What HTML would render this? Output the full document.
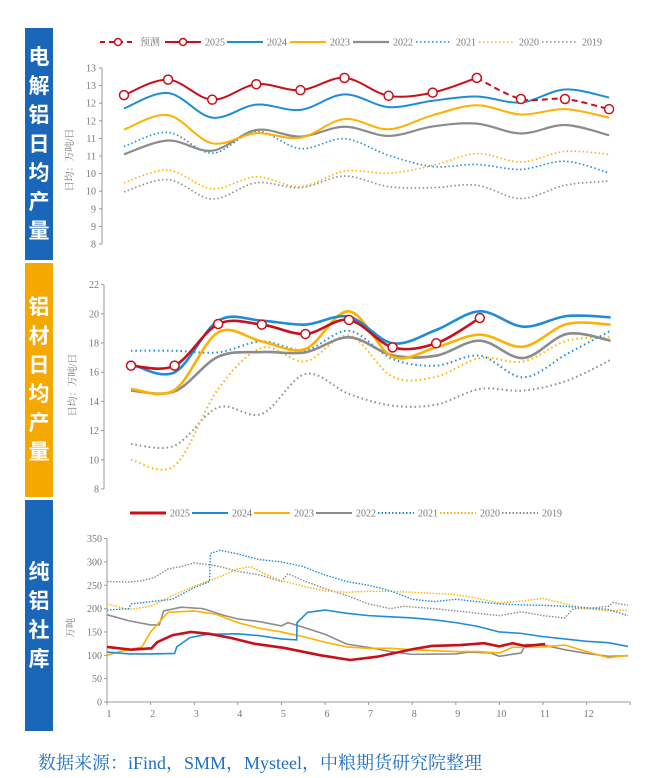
<!DOCTYPE html>
<html><head><meta charset="utf-8">
<style>
body{margin:0;background:#fff;width:670px;height:778px;overflow:hidden;font-family:"Liberation Serif","Noto Serif CJK SC",serif;}
.side{position:absolute;left:25px;width:28px;color:#fff;font-family:"Liberation Sans","Noto Sans CJK SC",sans-serif;font-weight:bold;font-size:21px;line-height:29px;text-align:center;display:flex;align-items:center;justify-content:center;}
#foot{position:absolute;left:38px;top:749px;font-size:18px;color:#1f6fc0;font-family:"Liberation Serif","Noto Serif CJK SC",serif;}
svg{position:absolute;left:0;top:0}
svg text{font-family:"Liberation Serif","Noto Serif CJK SC",serif;fill:#777;font-size:10px}
</style></head><body>
<div class="side" style="top:28px;height:232px;background:#1a66b8">电<br>解<br>铝<br>日<br>均<br>产<br>量</div>
<div class="side" style="top:263px;height:234px;background:#f5a800">铝<br>材<br>日<br>均<br>产<br>量</div>
<div class="side" style="top:500px;height:231px;background:#1a66b8">纯<br>铝<br>社<br>库</div>
<div id="foot">数据来源：iFind，SMM，Mysteel，中粮期货研究院整理</div>
<svg id="chart" width="670" height="778"></svg>
<script>
const seriesNames=['2025','2024','2023','2022','2021','2020','2019'];
const topTickLabels=['13','13','12','12','11','11','10','10','9','9','8'];
const topTickValues=[13,12.5,12,11.5,11,10.5,10,9.5,9,8.5,8];
const top2025=[12.23,12.67,12.10,12.54,12.37,12.72,12.21,12.30,12.72];
const topForecast=[null,null,null,null,null,null,null,null,12.72,12.12,12.12,11.83];
const top2024=[11.85,12.29,11.59,11.96,11.81,12.25,11.89,12.07,12.19,12.02,12.39,12.16];
const top2023=[11.25,11.66,10.86,11.15,11.02,11.55,11.26,11.66,11.94,11.68,11.83,11.59];
const top2022=[10.55,10.94,10.65,11.24,11.05,11.33,11.07,11.34,11.42,11.14,11.38,11.09];
const top2021=[10.77,11.17,10.58,11.20,10.71,10.99,10.52,10.20,10.26,10.12,10.35,10.02];
const top2020=[9.74,10.10,9.57,9.91,9.63,10.07,10.01,10.23,10.57,10.33,10.63,10.55];
const top2019=[9.48,9.83,9.28,9.74,9.60,9.93,9.63,9.60,9.67,9.29,9.67,9.79];
const midTicks=[22,20,18,16,14,12,10,8];
const mid2025=[16.45,16.45,19.30,19.26,18.62,19.58,17.70,17.98,19.71];
const mid2024=[16.56,15.99,19.53,19.53,19.26,19.80,17.98,18.89,20.17,19.12,19.85,19.76];
const mid2023=[14.85,14.78,18.73,18.11,17.59,20.17,17.06,17.70,18.57,17.75,19.30,19.26];
const mid2022=[14.74,14.69,17.06,17.38,17.36,18.39,17.16,17.13,18.16,16.97,18.62,18.16];
const mid2021=[17.47,17.47,17.36,18.11,17.52,18.84,16.90,16.45,17.13,15.65,17.25,18.84];
const mid2020=[10.01,9.60,14.85,17.66,16.74,18.50,15.69,15.69,16.97,16.74,18.16,18.39];
const mid2019=[11.08,10.97,13.59,13.14,15.88,14.51,13.71,13.78,14.85,14.74,15.42,16.84];
const botTicks=[0,50,100,150,200,250,300,350];
const botMonths=[1,2,3,4,5,6,7,8,9,10,11,12];
const inv2025=[[1,118],[1.55,112],[2.02,115],[2.15,128],[2.5,143],[2.92,150],[3.35,146],[3.85,137],[4.37,125],[5.05,116],[5.9,100],[6.58,90],[7.2,97],[7.6,105],[8,113],[8.45,120],[9.1,122],[9.65,126],[10,119],[10.3,126],[10.6,120],[11.05,124]];
const inv2024=[[1,107],[1.5,103],[2,103],[2.55,104],[2.6,118],[2.9,138],[3.3,145],[4,146],[4.5,142],[5,135],[5.35,133],[5.36,170],[5.6,192],[6,197],[6.5,190],[7,185],[8,180],[8.5,176],[9,170],[9.5,162],[10,150],[10.5,147],[11,140],[12,130],[12.5,127],[12.95,119]];
const inv2023=[[1,100],[1.3,108],[1.8,118],[2,150],[2.4,192],[3,195],[3.5,188],[4,170],[4.5,158],[5,150],[5.5,140],[6,128],[6.5,118],[7,115],[7.5,115],[8,112],[8.5,110],[9,108],[9.5,108],[10,105],[10.3,117],[11,118],[11.5,122],[12,108],[12.5,95],[12.95,100]];
const inv2022=[[1,187],[1.5,174],[2,165],[2.2,165],[2.3,195],[2.7,203],[3.2,200],[3.7,185],[4,178],[4.5,172],[5,163],[5.15,170],[5.5,160],[6,145],[6.5,124],[7,117],[7.5,108],[8,102],[9,103],[9.3,107],[9.8,105],[10,98],[10.5,105],[10.6,123],[11,122],[11.5,112],[12,104],[12.5,98],[12.95,99]];
const inv2021=[[1,197],[1.5,200],[1.55,210],[2,215],[2.5,220],[3,245],[3.35,258],[3.37,318],[3.6,325],[4,317],[4.5,305],[5,300],[5.5,290],[6,272],[6.5,258],[7,250],[7.5,238],[8,220],[8.5,215],[9,220],[9.5,215],[10,210],[10.5,208],[11,207],[11.5,205],[12,202],[12.5,198],[12.95,185]];
const inv2020=[[1,210],[1.5,198],[2,205],[2.5,228],[3,248],[3.5,265],[4,285],[4.3,290],[4.6,275],[5,260],[5.5,248],[6,238],[6.5,235],[7,237],[7.5,237],[8,235],[9,230],[9.5,222],[10,212],[10.5,216],[11,222],[11.5,210],[12,200],[12.5,195],[12.95,197]];
const inv2019=[[1,258],[1.5,257],[1.8,260],[2.1,267],[2.4,285],[2.7,290],[3,298],[3.5,292],[4,280],[4.5,272],[5,258],[5.15,275],[5.5,260],[6,243],[6.5,228],[7,210],[7.5,200],[7.8,205],[8.5,200],[9,195],[9.5,190],[10,185],[10.5,193],[11,185],[11.5,180],[11.7,200],[12,200],[12.5,205],[12.6,213],[12.95,207]];

const R='#c8101a',B='#1f8dd6',O='#ffb000',G='#8c8c8c';
const styles=[{c:R,w:2,d:''},{c:B,w:2,d:''},{c:O,w:2,d:''},{c:G,w:2.2,d:''},{c:B,w:1.6,d:'1.5 2.5'},{c:O,w:1.6,d:'1.5 2.5'},{c:G,w:1.6,d:'1.5 2.5'}];
const svg=document.getElementById('chart');const NS='http://www.w3.org/2000/svg';
function mk(tag,attrs,parent){const e=document.createElementNS(NS,tag);for(const k in attrs)e.setAttribute(k,attrs[k]);(parent||svg).appendChild(e);return e;}
function smooth(pts){if(pts.length<2)return '';let d='M'+pts[0][0]+','+pts[0][1];for(let i=0;i<pts.length-1;i++){const p0=pts[i-1]||pts[i],p1=pts[i],p2=pts[i+1],p3=pts[i+2]||p2;const t=0.5/3;d+=' C'+(p1[0]+(p2[0]-p0[0])*t)+','+(p1[1]+(p2[1]-p0[1])*t)+' '+(p2[0]-(p3[0]-p1[0])*t)+','+(p2[1]-(p3[1]-p1[1])*t)+' '+p2[0]+','+p2[1];}return d;}
function legend(y,x0,items){let x=x0;items.forEach(it=>{const g=mk('g',{});

mk('line',{x1:x,y1:y,x2:x+36,y2:y,stroke:it.s.c,'stroke-width':it.s.w,'stroke-dasharray':it.dash||it.s.d},g);
if(it.m)mk('circle',{cx:x+18,cy:y,r:3.5,fill:'#fff',stroke:R,'stroke-width':1.5},g);
const t=mk('text',{x:x+40,y:y+3.5},g);t.textContent=it.n;x+=it.wd;});}

// TOP
const tx=i=>124+44.1*i, ty=v=>244-(v-8)*35.2;
const gTop=mk('g',{});
mk('line',{x1:102,y1:ty(13),x2:102,y2:ty(8),stroke:'#999','stroke-width':1},gTop);
topTickValues.forEach((v,i)=>{mk('line',{x1:99,y1:ty(v),x2:102,y2:ty(v),stroke:'#999'},gTop);const t=mk('text',{x:96,y:ty(v)+3.5,'text-anchor':'end'},gTop);t.textContent=topTickLabels[i];});
const yt=mk('text',{x:0,y:0,transform:'translate(73,160) rotate(-90)','text-anchor':'middle','font-size':9},gTop);yt.textContent='日均：万吨/日';
const topData=[top2025,top2024,top2023,top2022,top2021,top2020,top2019];
for(let s=6;s>=0;s--){const p=mk('path',{d:smooth(topData[s].map((v,i)=>[tx(i),ty(v)])),fill:'none',stroke:styles[s].c,'stroke-width':styles[s].w,'stroke-dasharray':styles[s].d},gTop);}
const fp=topForecast.map((v,i)=>v==null?null:[tx(i),ty(v)]).filter(Boolean);
const fl=mk('path',{d:smooth(fp),fill:'none',stroke:R,'stroke-width':2,'stroke-dasharray':'6 4'},gTop);
top2025.forEach((v,i)=>{const c=mk('circle',{cx:tx(i),cy:ty(v),r:4.5,fill:'#fff',stroke:R,'stroke-width':1.5},gTop);});
topForecast.forEach((v,i)=>{if(v!=null&&i>8){const c=mk('circle',{cx:tx(i),cy:ty(v),r:4.5,fill:'#fff',stroke:R,'stroke-width':1.5},gTop);}});
const legItems=[{n:'预测',s:styles[0],m:1,dash:'5 4',wd:65}].concat(seriesNames.map((n,i)=>({n,s:styles[i],m:i==0,wd:i==0?62:63})));
legend(42,100,legItems);

// MIDDLE
const mx=i=>131+43.6*i, my=v=>489-(v-8)*14.6;
const gMid=mk('g',{});
mk('line',{x1:104,y1:my(22),x2:104,y2:my(8),stroke:'#999'},gMid);
midTicks.forEach(v=>{mk('line',{x1:101,y1:my(v),x2:104,y2:my(v),stroke:'#999'},gMid);const t=mk('text',{x:99,y:my(v)+3.5,'text-anchor':'end'},gMid);t.textContent=v;});
const yt2=mk('text',{x:0,y:0,transform:'translate(76,385) rotate(-90)','text-anchor':'middle','font-size':9},gMid);yt2.textContent='日均：万吨/日';
const midData=[mid2025,mid2024,mid2023,mid2022,mid2021,mid2020,mid2019];
for(let s=6;s>=0;s--){const w=s<4?2.6:2;const p=mk('path',{d:smooth(midData[s].map((v,i)=>[mx(i),my(v)])),fill:'none',stroke:styles[s].c,'stroke-width':w,'stroke-dasharray':s>=4?'1.5 3':''},gMid);}
mid2025.forEach((v,i)=>{const c=mk('circle',{cx:mx(i),cy:my(v),r:4.5,fill:'#fff',stroke:R,'stroke-width':1.5},gMid);});

// BOTTOM
const bx=m=>107+(m-1)*43.6, by=v=>702-v*0.4669;
const gBot=mk('g',{});
mk('line',{x1:107,y1:by(350),x2:107,y2:by(0),stroke:'#999'},gBot);
mk('line',{x1:107,y1:by(0),x2:bx(13),y2:by(0),stroke:'#999'},gBot);
botTicks.forEach(v=>{mk('line',{x1:104,y1:by(v),x2:107,y2:by(v),stroke:'#999'},gBot);const t=mk('text',{x:102,y:by(v)+3.5,'text-anchor':'end'},gBot);t.textContent=v;});
botMonths.forEach(m=>{mk('line',{x1:bx(m),y1:by(0),x2:bx(m),y2:by(0)+3,stroke:'#999'},gBot);const t=mk('text',{x:bx(m)+2,y:by(0)+15,'text-anchor':'middle'},gBot);t.textContent=m;});
mk('line',{x1:bx(13),y1:by(0),x2:bx(13),y2:by(0)+3,stroke:'#999'},gBot);
const yt3=mk('text',{x:0,y:0,transform:'translate(74,628) rotate(-90)','text-anchor':'middle','font-size':9},gBot);yt3.textContent='万吨';
const invData=[inv2025,inv2024,inv2023,inv2022,inv2021,inv2020,inv2019];
for(let s=6;s>=0;s--){const w=s==0?2.6:(s<4?1.6:1.4);const p=mk('polyline',{points:invData[s].map(p=>bx(p[0])+','+by(p[1])).join(' '),fill:'none',stroke:styles[s].c,'stroke-width':w,'stroke-dasharray':s>=4?'1.5 1.5':''},gBot);}
legend(513,130,seriesNames.map((n,i)=>({n,s:{c:styles[i].c,w:i==0?3:2,d:i>=4?'1.5 2':''},wd:62})));
</script>
</body></html>
